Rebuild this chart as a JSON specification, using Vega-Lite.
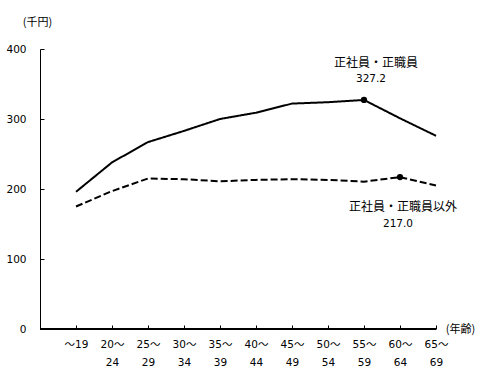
{
  "$schema": "https://vega.github.io/schema/vega-lite/v6.json",
  "autosize": "none",
  "width": 396,
  "height": 280,
  "padding": {"left": 40, "top": 49, "right": 46, "bottom": 49},
  "background": "white",
  "config": {"view": {"stroke": null}, "font": "DejaVu Sans, Noto Sans CJK JP"},
  "data": {"values": [
    {"age": "～19", "series": "正社員・正職員", "value": 196},
    {"age": "20～24", "series": "正社員・正職員", "value": 238},
    {"age": "25～29", "series": "正社員・正職員", "value": 267},
    {"age": "30～34", "series": "正社員・正職員", "value": 283},
    {"age": "35～39", "series": "正社員・正職員", "value": 300},
    {"age": "40～44", "series": "正社員・正職員", "value": 309},
    {"age": "45～49", "series": "正社員・正職員", "value": 322},
    {"age": "50～54", "series": "正社員・正職員", "value": 324},
    {"age": "55～59", "series": "正社員・正職員", "value": 327.2},
    {"age": "60～64", "series": "正社員・正職員", "value": 301},
    {"age": "65～69", "series": "正社員・正職員", "value": 276},
    {"age": "～19", "series": "正社員・正職員以外", "value": 175},
    {"age": "20～24", "series": "正社員・正職員以外", "value": 197},
    {"age": "25～29", "series": "正社員・正職員以外", "value": 215},
    {"age": "30～34", "series": "正社員・正職員以外", "value": 214},
    {"age": "35～39", "series": "正社員・正職員以外", "value": 211},
    {"age": "40～44", "series": "正社員・正職員以外", "value": 213},
    {"age": "45～49", "series": "正社員・正職員以外", "value": 214},
    {"age": "50～54", "series": "正社員・正職員以外", "value": 213},
    {"age": "55～59", "series": "正社員・正職員以外", "value": 210.5},
    {"age": "60～64", "series": "正社員・正職員以外", "value": 217.0},
    {"age": "65～69", "series": "正社員・正職員以外", "value": 205}
  ]},
  "encoding": {
    "x": {
      "field": "age", "type": "ordinal", "sort": null,
      "scale": {"type": "point", "range": [36, 396], "padding": 0},
      "axis": {
        "title": "(年齢)", "titleAngle": 0, "titleX": 420, "titleY": 0,
        "titleAlign": "center", "titleBaseline": "middle",
        "titleFont": "Noto Sans CJK JP", "titleFontSize": 11, "titleFontWeight": "normal", "titleColor": "#000",
        "domain": false, "ticks": true, "tickSize": -4, "tickColor": "#000",
        "labelAngle": 0, "labelPadding": 14, "labelFontSize": 10.5, "labelColor": "#000",
        "labelLineHeight": 18, "labelBaseline": "top",
        "labelExpr": "indexof(datum.value,'～')==0 ? datum.value : [slice(datum.value,0,indexof(datum.value,'～')+1), slice(datum.value,indexof(datum.value,'～')+1)]"
      }
    },
    "y": {
      "field": "value", "type": "quantitative",
      "scale": {"domain": [0, 400], "nice": false},
      "axis": {
        "title": "(千円)", "titleAngle": 0, "titleX": -3, "titleY": -27,
        "titleAlign": "center", "titleBaseline": "middle",
        "titleFont": "Noto Sans CJK JP", "titleFontSize": 11, "titleFontWeight": "normal", "titleColor": "#000",
        "values": [0, 100, 200, 300, 400], "grid": false,
        "domainColor": "#000", "tickColor": "#000", "tickSize": -4,
        "labelPadding": 18, "labelFontSize": 10.5, "labelColor": "#000"
      }
    }
  },
  "layer": [
    {
      "mark": {"type": "rule", "color": "#000", "strokeWidth": 1},
      "encoding": {"x": null, "y": {"datum": 0}}
    },
    {
      "mark": {"type": "line", "color": "#000", "strokeWidth": 2},
      "encoding": {
        "detail": {"field": "series"},
        "strokeDash": {
          "field": "series", "type": "nominal",
          "scale": {"domain": ["正社員・正職員", "正社員・正職員以外"], "range": [[1, 0], [7, 3]]},
          "legend": null
        }
      }
    },
    {
      "transform": [{"filter": "(datum.series == '正社員・正職員' && datum.age == '55～59') || (datum.series == '正社員・正職員以外' && datum.age == '60～64')"}],
      "mark": {"type": "point", "filled": true, "color": "#000", "size": 40, "opacity": 1}
    },
    {
      "transform": [{"filter": "datum.series == '正社員・正職員' && datum.age == '55～59'"}],
      "mark": {"type": "text", "font": "Noto Sans CJK JP", "fontSize": 12, "color": "#000", "dx": 12, "dy": -37, "baseline": "middle", "align": "center"},
      "encoding": {"text": {"field": "series"}}
    },
    {
      "transform": [{"filter": "datum.series == '正社員・正職員' && datum.age == '55～59'"}],
      "mark": {"type": "text", "fontSize": 10.5, "color": "#000", "dx": 7, "dy": -21, "baseline": "middle", "align": "center"},
      "encoding": {"text": {"field": "value", "format": ".1f"}}
    },
    {
      "transform": [{"filter": "datum.series == '正社員・正職員以外' && datum.age == '60～64'"}],
      "mark": {"type": "text", "font": "Noto Sans CJK JP", "fontSize": 12, "color": "#000", "dx": 3, "dy": 30, "baseline": "middle", "align": "center"},
      "encoding": {"text": {"field": "series"}}
    },
    {
      "transform": [{"filter": "datum.series == '正社員・正職員以外' && datum.age == '60～64'"}],
      "mark": {"type": "text", "fontSize": 10.5, "color": "#000", "dx": -2, "dy": 47, "baseline": "middle", "align": "center"},
      "encoding": {"text": {"field": "value", "format": ".1f"}}
    }
  ]
}
